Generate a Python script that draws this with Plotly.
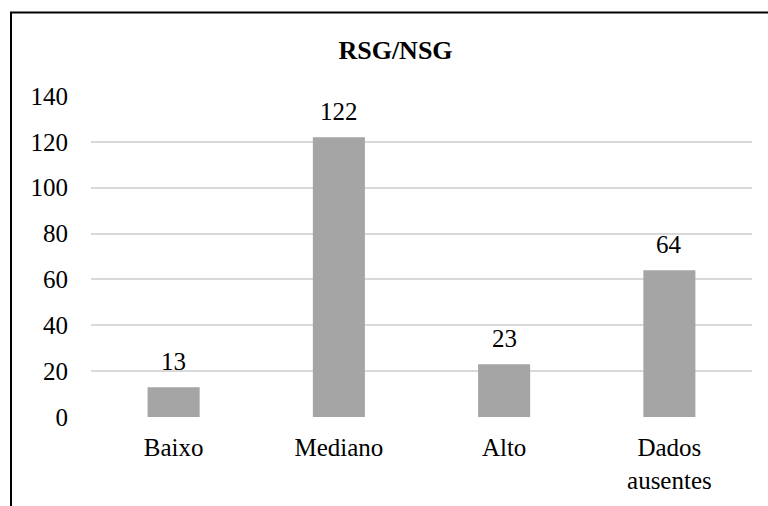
import plotly.graph_objects as go

# Categories and counts
categories = ["Baixo", "Mediano", "Alto", "Dados<br>ausentes"]
counts = [13, 122, 23, 64]
chart_title = "RSG/NSG"
y_ticks = [0, 20, 40, 60, 80, 100, 120, 140]

W, H = 768, 506
ML, MR, MT, MB = 91, 16, 96, 89
FONT = "Liberation Serif"

fig = go.Figure()
fig.add_trace(go.Bar(
    x=categories,
    y=counts,
    marker=dict(color="#a5a5a5", line=dict(width=0)),
    hoverinfo="x+y",
))

# value labels above each bar
for c, v in zip(categories, counts):
    fig.add_annotation(
        x=c, y=v, text=str(v), showarrow=False,
        xref="x", yref="y", yanchor="bottom", yshift=10,
        font=dict(family=FONT, size=25, color="#000000"),
    )

# outer frame (left and top edges of the chart box)
pw = W - ML - MR
ph = H - MT - MB
def px_to_paper_x(px):
    return (px - ML) / pw
def px_to_paper_y(py):
    return (H - MB - py) / ph

x0 = px_to_paper_x(11)
y0 = px_to_paper_y(12.5)
x1 = px_to_paper_x(775)
yb = px_to_paper_y(515)
fig.add_shape(
    type="path", xref="paper", yref="paper",
    path=f"M {x0} {yb} L {x0} {y0} L {x1} {y0}",
    line=dict(color="#000000", width=2),
)

fig.update_layout(
    width=W, height=H,
    margin=dict(l=ML, r=MR, t=MT, b=MB, pad=0),
    paper_bgcolor="#ffffff",
    plot_bgcolor="#ffffff",
    showlegend=False,
    bargap=0.685,
    font=dict(family=FONT, size=25, color="#000000"),
    title=dict(
        text=f"<b>{chart_title}</b>",
        x=395.5 / W, xanchor="center",
        y=1 - 49.5 / H, yanchor="middle", yref="container",
        font=dict(family=FONT, size=26, color="#000000"),
    ),
    xaxis=dict(
        showgrid=False, zeroline=False, showline=False,
        ticks="", tickfont=dict(family=FONT, size=25, color="#000000"),
        ticklabelstandoff=13,
    ),
    yaxis=dict(
        range=[0, 140], tickvals=y_ticks,
        showgrid=True, gridcolor="#d9d9d9", gridwidth=2,
        zeroline=False, showline=False, ticks="",
        tickfont=dict(family=FONT, size=25, color="#000000"),
        ticklabelstandoff=22,
    ),
)

fig.write_html("out.html")
